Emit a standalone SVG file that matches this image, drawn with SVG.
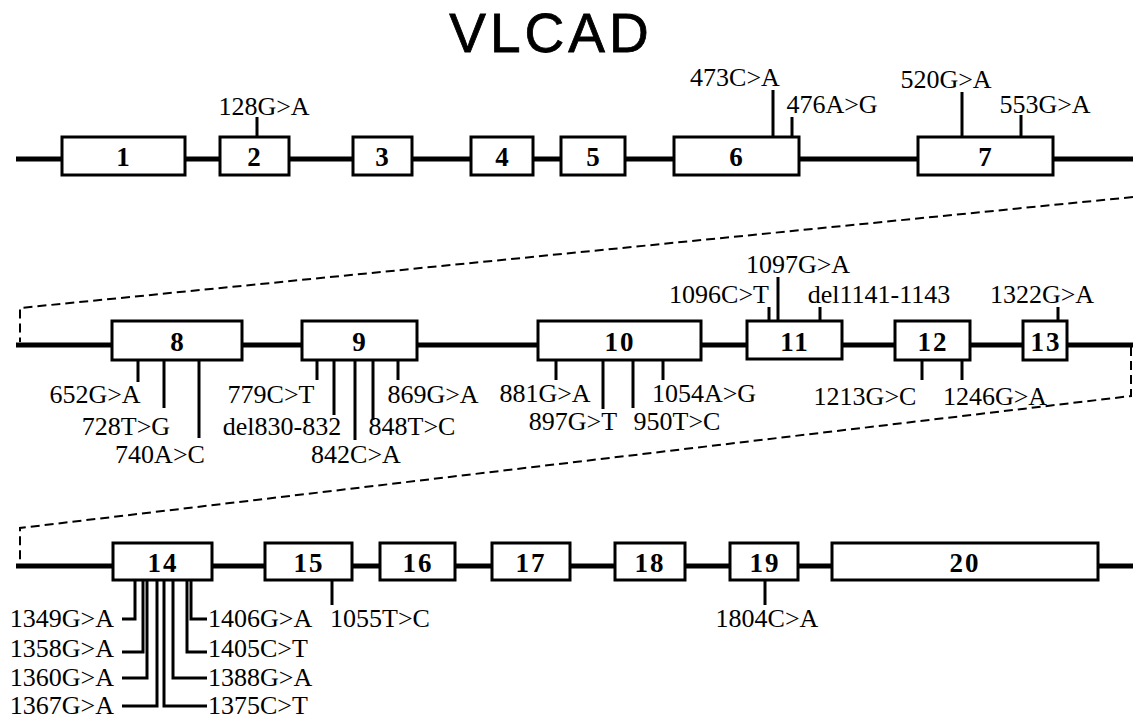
<svg xmlns="http://www.w3.org/2000/svg" width="1133" height="721" viewBox="0 0 1133 721">
<style>
.bb{fill:#fff;stroke:#000;stroke-width:3}
.ex{font-family:"Liberation Serif","Times New Roman",serif;font-weight:bold;font-size:27px;letter-spacing:2px;text-anchor:middle;fill:#000}
.mu{font-family:"Liberation Serif","Times New Roman",serif;font-size:26px;fill:#000}
.m{text-anchor:middle}.e{text-anchor:end}.s{text-anchor:start}
.tk{stroke:#000;stroke-width:3;fill:none}
.ln{stroke:#000;stroke-width:5;fill:none}
.ds{stroke:#000;stroke-width:2;fill:none;stroke-dasharray:9 5}
.tt{font-family:"Liberation Sans",Arial,sans-serif;font-size:55px;letter-spacing:4px;text-anchor:middle;fill:#000;stroke:#000;stroke-width:0.8}
</style>
<rect width="1133" height="721" fill="#fff"/>
<text class="tt" x="551" y="52">VLCAD</text>
<g id="connectors">
<line class="ln" x1="16" y1="159" x2="1133" y2="159"/>
<line class="ln" x1="16" y1="345" x2="1133" y2="345"/>
<line class="ln" x1="16" y1="566" x2="1133" y2="566"/>
<polyline class="ds" points="1133,197 20,308 20,342"/>
<polyline class="ds" points="1131,347 1131,396 20,528 20,563"/>
</g>
<g id="exon1"><rect class="bb" x="62" y="137" width="123" height="38"/><text class="ex" x="124" y="166">1</text></g>
<g id="exon2"><rect class="bb" x="220" y="137" width="69" height="38"/><text class="ex" x="255" y="166">2</text></g>
<g id="exon3"><rect class="bb" x="353" y="137" width="59" height="38"/><text class="ex" x="383" y="166">3</text></g>
<g id="exon4"><rect class="bb" x="471" y="137" width="62" height="38"/><text class="ex" x="503" y="166">4</text></g>
<g id="exon5"><rect class="bb" x="561" y="137" width="64" height="38"/><text class="ex" x="594" y="166">5</text></g>
<g id="exon6"><rect class="bb" x="674" y="137" width="125" height="38"/><text class="ex" x="737" y="166">6</text></g>
<g id="exon7"><rect class="bb" x="918" y="137" width="135" height="38"/><text class="ex" x="986" y="166">7</text></g>
<g id="exon8"><rect class="bb" x="112" y="321" width="130" height="39"/><text class="ex" x="178" y="351">8</text></g>
<g id="exon9"><rect class="bb" x="302" y="321" width="115" height="39"/><text class="ex" x="360" y="351">9</text></g>
<g id="exon10"><rect class="bb" x="538" y="321" width="163" height="39"/><text class="ex" x="620" y="351">10</text></g>
<g id="exon11"><rect class="bb" x="747" y="321" width="95" height="38"/><text class="ex" x="795" y="351">11</text></g>
<g id="exon12"><rect class="bb" x="895" y="321" width="75" height="39"/><text class="ex" x="933" y="351">12</text></g>
<g id="exon13"><rect class="bb" x="1023" y="321" width="44" height="39"/><text class="ex" x="1046" y="351">13</text></g>
<g id="exon14"><rect class="bb" x="113" y="543" width="99" height="37"/><text class="ex" x="163" y="572">14</text></g>
<g id="exon15"><rect class="bb" x="265" y="543" width="87" height="37"/><text class="ex" x="309" y="572">15</text></g>
<g id="exon16"><rect class="bb" x="380" y="543" width="75" height="37"/><text class="ex" x="418" y="572">16</text></g>
<g id="exon17"><rect class="bb" x="492" y="543" width="78" height="37"/><text class="ex" x="531" y="572">17</text></g>
<g id="exon18"><rect class="bb" x="615" y="543" width="70" height="37"/><text class="ex" x="650" y="572">18</text></g>
<g id="exon19"><rect class="bb" x="730" y="543" width="68" height="37"/><text class="ex" x="765" y="572">19</text></g>
<g id="exon20"><rect class="bb" x="832" y="543" width="266" height="37"/><text class="ex" x="965" y="572">20</text></g>
<g id="mutations">
<path class="tk" d="M257,117V137 M773,90V137 M792,117V137 M962,92V137 M1021,115V137"/>
<text class="mu m" x="264" y="115">128G&gt;A</text>
<text class="mu m" x="735" y="86">473C&gt;A</text>
<text class="mu m" x="832" y="113">476A&gt;G</text>
<text class="mu m" x="946" y="88">520G&gt;A</text>
<text class="mu m" x="1045" y="113">553G&gt;A</text>
<path class="tk" d="M138,360V382 M164,360V408 M199,360V438 M317,360V380 M334,360V415 M355,360V440 M373,360V420 M398,360V380 M556,360V380 M603,360V409 M633,360V408 M663,360V380 M769,307V321 M778,277V321 M820,307V321 M1058,307V321 M922,360V380 M962,360V380"/>
<text class="mu m" x="95" y="403">652G&gt;A</text>
<text class="mu m" x="126" y="435">728T&gt;G</text>
<text class="mu m" x="160" y="463">740A&gt;C</text>
<text class="mu m" x="271" y="403">779C&gt;T</text>
<text class="mu m" x="282" y="435">del830-832</text>
<text class="mu m" x="356" y="463">842C&gt;A</text>
<text class="mu m" x="412" y="435">848T&gt;C</text>
<text class="mu m" x="433" y="403">869G&gt;A</text>
<text class="mu m" x="545" y="402">881G&gt;A</text>
<text class="mu m" x="573" y="430">897G&gt;T</text>
<text class="mu m" x="677" y="430">950T&gt;C</text>
<text class="mu m" x="704" y="402">1054A&gt;G</text>
<text class="mu m" x="719" y="303">1096C&gt;T</text>
<text class="mu m" x="798" y="273">1097G&gt;A</text>
<text class="mu m" x="879" y="303">del1141-1143</text>
<text class="mu m" x="1042" y="303">1322G&gt;A</text>
<text class="mu m" x="865" y="405">1213G&gt;C</text>
<text class="mu m" x="995" y="405">1246G&gt;A</text>
<path class="tk" d="M135,580V619H122 M143,580V652H122 M147,580V678H122 M157,580V706H122 M164,580V706H207 M173,580V678H207 M187,580V652H207 M191,580V619H207 M332,580V605 M765,580V605"/>
<text class="mu e" x="114" y="627">1349G&gt;A</text>
<text class="mu e" x="114" y="657">1358G&gt;A</text>
<text class="mu e" x="114" y="686">1360G&gt;A</text>
<text class="mu e" x="114" y="714">1367G&gt;A</text>
<text class="mu s" x="208" y="627">1406G&gt;A</text>
<text class="mu s" x="208" y="657">1405C&gt;T</text>
<text class="mu s" x="208" y="686">1388G&gt;A</text>
<text class="mu s" x="208" y="714">1375C&gt;T</text>
<text class="mu s" x="330" y="627">1055T&gt;C</text>
<text class="mu m" x="767" y="627">1804C&gt;A</text>
</g>
</svg>
